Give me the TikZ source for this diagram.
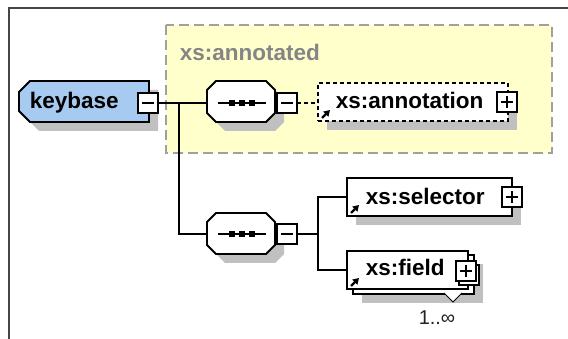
\documentclass[tikz,border=0pt]{standalone}
\usepackage{fontspec}
\setmainfont{Liberation Sans}
\usetikzlibrary{calc,arrows.meta}
\definecolor{frameC}{HTML}{454545}
\definecolor{yelC}{HTML}{FFFFCC}
\definecolor{yelB}{HTML}{A0A0A0}
\definecolor{kbC}{HTML}{A6CAF0}
\definecolor{shadC}{HTML}{C0C0C0}
\definecolor{grayT}{HTML}{858585}
\definecolor{numC}{HTML}{222222}
\begin{document}
\begin{tikzpicture}[x=1pt,y=-1pt,
  line width=1.8pt,
  shd/.style={fill=shadC, draw=none},
  pmbox/.style={rectangle, draw=black, fill=white, minimum size=20pt, inner sep=0pt, outer sep=0pt, line width=1.7pt},
  elem/.style={rectangle, draw=black, fill=white, inner sep=0pt, outer sep=0pt, line width=1.8pt},
  anchorbox/.style={rectangle, inner sep=0pt, outer sep=0pt},
  lbl/.style={font=\fontsize{22.5}{24}\selectfont\bfseries, text=black, inner sep=0pt, anchor=base west},
  conn/.style={line width=1.7pt, draw=black},
  refarrow/.style={-{Triangle[length=6pt,width=7pt]}, line width=2.2pt},
  dashedconn/.style={dash pattern=on 4pt off 3pt}
]
\useasboundingbox (0,0) rectangle (568,339);
\fill[white] (0,0) rectangle (568,339);
% frame
\draw[frameC, line width=2pt] (9,339) -- (9,8) -- (568,8);
% group area
\draw[fill=yelC, draw=yelB, line width=1.8pt, dash pattern=on 10pt off 5pt] (166,25) rectangle (552,153);
\node[lbl, text=grayT] (anntd) at (179,61) {xs:annotated};

% shadows
\begin{scope}[shift={(9,9)}]
  \fill[shd] (30,81) -- (149,81) -- (149,122) -- (30,122) -- (19,111) -- (19,92) -- cycle;
  \fill[shd] (216,81) -- (266,81) -- (275,90) -- (275,113) -- (266,122) -- (216,122) -- (207,113) -- (207,90) -- cycle;
  \fill[shd] (216,213) -- (266,213) -- (275,222) -- (275,245) -- (266,254) -- (216,254) -- (207,245) -- (207,222) -- cycle;
  \fill[shd] (318,83) rectangle (508,121);
  \fill[shd] (347,178) rectangle (512,216);
  \fill[shd] (353,255) rectangle (474,294);
\end{scope}

% named anchors for connectors
\node[anchorbox, minimum width=130pt, minimum height=41pt] (kb) at (84,101.5) {};
\node[anchorbox, minimum width=68pt, minimum height=41pt] (s1) at (241,101.5) {};
\node[anchorbox, minimum width=68pt, minimum height=41pt] (s2) at (241,233.5) {};
\node[elem, dash pattern=on 4pt off 3pt, minimum width=190pt, minimum height=38pt] (an) at (413,102) {};
\node[elem, minimum width=165pt, minimum height=38pt] (sel) at (429.5,197) {};
\node[elem, minimum width=121pt, minimum height=39pt] (fldb) at (413.5,274.5) {};
\node[elem, minimum width=121pt, minimum height=38pt] (fld) at (407.5,270) {};

% minus boxes (positions)
\node[pmbox] (kbm) at (148,103) {};
\node[pmbox] (s1m) at (287,103) {};
\node[pmbox] (s2m) at (287,234) {};

% connectors
\coordinate (b1) at (179,103);
\coordinate (b2) at (318,197);
\draw[conn] (kbm.east) -- (s1.west |- kbm.east);
\draw[conn] (b1) |- (s2.west |- s2m.west);
\draw[conn, dashedconn] (s1m.east) -- (an.west |- s1m.east);
\draw[conn] (s2m.east) -| (b2) -- (sel.west);
\draw[conn] (b2) |- (fld.west);

% keybase shape
\draw[fill=kbC] (30,81) -- (149,81) -- (149,122) -- (30,122) -- (19,111) -- (19,92) -- cycle;
% sequence shapes
\draw[fill=white] (216,81) -- (266,81) -- (275,90) -- (275,113) -- (266,122) -- (216,122) -- (207,113) -- (207,90) -- cycle;
\draw[fill=white] (216,213) -- (266,213) -- (275,222) -- (275,245) -- (266,254) -- (216,254) -- (207,245) -- (207,222) -- cycle;
\foreach \yy in {103,234}{
  \draw[line width=1.5pt] (218,\yy) -- (266,\yy);
  \foreach \xx in {232,242,252}{
    \fill (\xx-2.7,\yy-2.7) rectangle (\xx+2.7,\yy+2.7);
  }
}

% minus boxes on top
\node[pmbox] at (kbm) {};
\node[pmbox] at (s1m) {};
\node[pmbox] at (s2m) {};
\foreach \m in {kbm,s1m,s2m}{
  \draw[line width=1.6pt] ([xshift=4pt]\m.west) -- ([xshift=-4pt]\m.east);
}

% plus boxes
\node[pmbox] (anp) at (507,102) {};
\node[pmbox] (selp) at (512,197) {};
\node[pmbox] (fldpb) at (469,275) {};
\node[pmbox] (fldp) at (466,271) {};
\foreach \p in {anp,selp,fldp}{
  \draw[line width=1.6pt] ([xshift=4pt]\p.west) -- ([xshift=-4pt]\p.east);
  \draw[line width=1.6pt] ([yshift=-4pt]\p.north) -- ([yshift=4pt]\p.south);
}

% multiplicity marker
\draw[fill=white, line width=1pt] (444,293) -- (453,302) -- (462,293);
\node[font=\fontsize{20}{22}\selectfont, text=numC, inner sep=0pt] (mult) at (437,318) {1..∞};

% reference arrows
\draw[refarrow] ([shift={(4,-3)}]an.south west) -- ++(8,-8);
\draw[refarrow] ([shift={(4,-3)}]sel.south west) -- ++(8,-8);
\draw[refarrow] ([shift={(4,-3)}]fld.south west) -- ++(8,-8);

% labels
\node[lbl] (kbt) at (29,108.5) {keybase};
\node[lbl] (ant) at (335,108.5) {xs:annotation};
\node[lbl] (selt) at (365,205) {xs:selector};
\node[lbl] (fldt) at (365,276) {xs:field};
\end{tikzpicture}
\end{document}
